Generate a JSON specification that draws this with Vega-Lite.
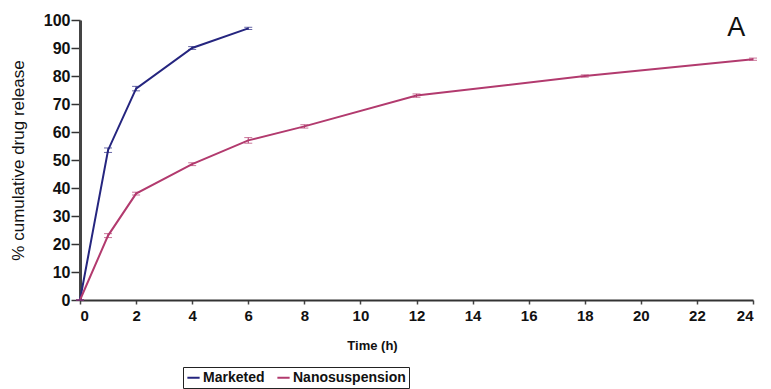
{
  "$schema": "https://vega.github.io/schema/vega-lite/v6.json",
  "width": 673,
  "height": 280,
  "autosize": {"type": "none"},
  "padding": {"left": 80, "top": 20, "right": 18, "bottom": 89},
  "background": "white",
  "config": {
    "view": {"stroke": null},
    "font": "Liberation Sans",
    "axisX": {
      "tickCount": 12,
      "titleFontSize": 13,
      "titleFontWeight": "bold",
      "titleColor": "#111",
      "titleX": 292,
      "titleY": 52,
      "titleBaseline": "bottom",
      "labelFontSize": 15,
      "labelFontWeight": "bold",
      "labelColor": "#111",
      "labelPadding": 4,
      "labelOverlap": false,
      "tickColor": "#444",
      "tickSize": 4,
      "tickWidth": 1.5,
      "domainColor": "#333",
      "domainWidth": 2,
      "grid": false
    },
    "axisY": {
      "tickCount": 10,
      "labelOverlap": false,
      "titleFontSize": 17,
      "titleFontWeight": "normal",
      "titleColor": "#111",
      "titlePadding": 16,
      "labelFontSize": 16,
      "labelFontWeight": "bold",
      "labelColor": "#111",
      "labelPadding": 1,
      "tickColor": "#333",
      "tickSize": 9,
      "tickWidth": 1.5,
      "domainColor": "#444",
      "domainWidth": 3,
      "grid": false
    }
  },
  "data": {
    "values": [
      {"t": 0, "series": "Marketed", "v": 0, "lo": 0, "hi": 0},
      {"t": 1, "series": "Marketed", "v": 53.5, "lo": 52.7, "hi": 54.3},
      {"t": 2, "series": "Marketed", "v": 75.5, "lo": 74.7, "hi": 76.3},
      {"t": 4, "series": "Marketed", "v": 90, "lo": 89.5, "hi": 90.5},
      {"t": 6, "series": "Marketed", "v": 97, "lo": 96.6, "hi": 97.4},
      {"t": 0, "series": "Nanosuspension", "v": 0, "lo": 0, "hi": 0},
      {"t": 1, "series": "Nanosuspension", "v": 23, "lo": 22.3, "hi": 23.7},
      {"t": 2, "series": "Nanosuspension", "v": 38, "lo": 37.5, "hi": 38.5},
      {"t": 4, "series": "Nanosuspension", "v": 48.5, "lo": 48, "hi": 49},
      {"t": 6, "series": "Nanosuspension", "v": 57, "lo": 56, "hi": 58},
      {"t": 8, "series": "Nanosuspension", "v": 62, "lo": 61.4, "hi": 62.6},
      {"t": 12, "series": "Nanosuspension", "v": 73, "lo": 72.4, "hi": 73.6},
      {"t": 18, "series": "Nanosuspension", "v": 80, "lo": 79.6, "hi": 80.4},
      {"t": 24, "series": "Nanosuspension", "v": 86, "lo": 85.6, "hi": 86.4}
    ]
  },
  "layer": [
    {
      "mark": {"type": "line", "strokeWidth": 2},
      "encoding": {
        "x": {
          "field": "t", "type": "quantitative",
          "scale": {"domain": [0, 24], "nice": false},
          "title": "Time (h)"
        },
        "y": {
          "field": "v", "type": "quantitative",
          "scale": {"domain": [0, 100], "nice": false},
          "title": "% cumulative drug release"
        },
        "color": {
          "field": "series", "type": "nominal",
          "scale": {"domain": ["Marketed", "Nanosuspension"], "range": ["#25257f", "#b23a6e"]},
          "legend": {
            "title": null,
            "orient": "none",
            "legendX": 103,
            "legendY": 347,
            "direction": "horizontal",
            "symbolType": "stroke",
            "symbolSize": 150,
            "symbolStrokeWidth": 2,
            "labelFontSize": 14,
            "labelFontWeight": "bold",
            "labelColor": "#111",
            "labelOffset": 2,
            "columnPadding": 8,
            "strokeColor": "#222",
            "padding": 3
          }
        }
      }
    },
    {
      "mark": {"type": "rule", "strokeWidth": 1},
      "encoding": {
        "x": {"field": "t", "type": "quantitative", "title": "Time (h)"},
        "y": {"field": "lo", "type": "quantitative", "title": "% cumulative drug release"},
        "y2": {"field": "hi"},
        "color": {"field": "series", "type": "nominal", "legend": null}
      }
    },
    {
      "mark": {"type": "tick", "orient": "horizontal", "size": 8, "thickness": 1},
      "encoding": {
        "x": {"field": "t", "type": "quantitative", "title": "Time (h)"},
        "y": {"field": "lo", "type": "quantitative", "title": "% cumulative drug release"},
        "color": {"field": "series", "type": "nominal", "legend": null}
      }
    },
    {
      "mark": {"type": "tick", "orient": "horizontal", "size": 8, "thickness": 1},
      "encoding": {
        "x": {"field": "t", "type": "quantitative", "title": "Time (h)"},
        "y": {"field": "hi", "type": "quantitative", "title": "% cumulative drug release"},
        "color": {"field": "series", "type": "nominal", "legend": null}
      }
    },
    {
      "mark": {"type": "text", "fontSize": 27, "font": "Liberation Sans", "color": "#111", "align": "center", "baseline": "middle"},
      "data": {"values": [{"label": "A", "t": 23.4, "v": 97}]},
      "encoding": {
        "x": {"field": "t", "type": "quantitative", "title": "Time (h)"},
        "y": {"field": "v", "type": "quantitative", "title": "% cumulative drug release"},
        "text": {"field": "label"}
      }
    }
  ]
}
